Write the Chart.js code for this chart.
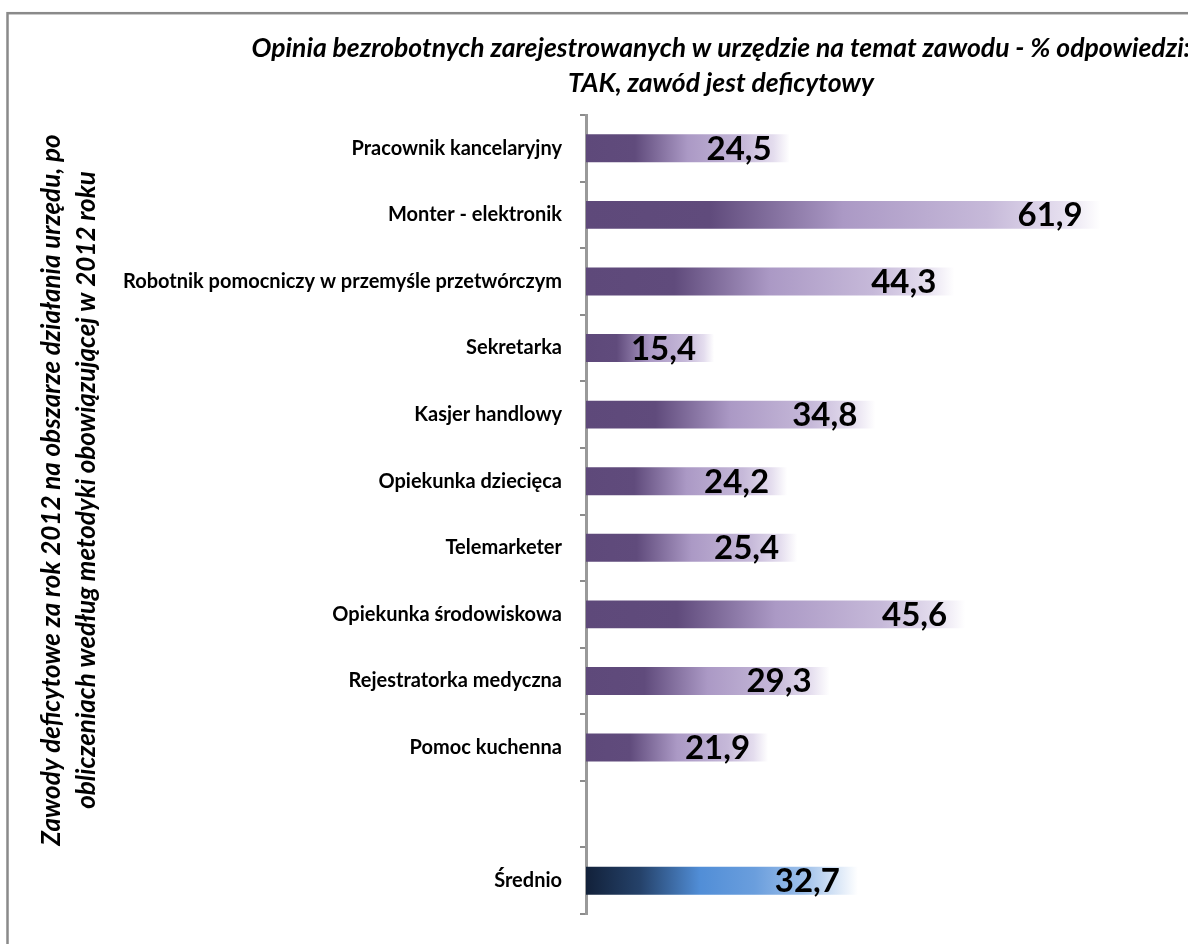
<!DOCTYPE html>
<html>
<head>
<meta charset="utf-8">
<script src="https://cdn.jsdelivr.net/npm/chart.js@4.4.0/dist/chart.umd.min.js"></script>
<style>
  html, body { margin: 0; padding: 0; background: #ffffff; }
  #wrap { width: 1188px; height: 944px; position: relative; }
</style>
</head>
<body>
<div id="wrap"><canvas id="c" width="1188" height="944"></canvas></div>
<script>
// Occupations (empty slot separates the average row)
const categories = [
  'Pracownik kancelaryjny',
  'Monter - elektronik',
  'Robotnik pomocniczy w przemyśle przetwórczym',
  'Sekretarka',
  'Kasjer handlowy',
  'Opiekunka dziecięca',
  'Telemarketer',
  'Opiekunka środowiskowa',
  'Rejestratorka medyczna',
  'Pomoc kuchenna',
  '',
  'Średnio'
];
// % of answers "TAK, zawód jest deficytowy"
const values = [24.5, 61.9, 44.3, 15.4, 34.8, 24.2, 25.4, 45.6, 29.3, 21.9, null, 32.7];
const averageLabel = 'Średnio';
const titleLines = [
  'Opinia bezrobotnych zarejestrowanych w urzędzie na temat zawodu - % odpowiedzi:',
  'TAK, zawód jest deficytowy'
];
const axisTitleLines = [
  'Zawody deficytowe za rok 2012 na obszarze działania urzędu, po',
  'obliczeniach według metodyki obowiązującej w 2012 roku'
];
const xMin = 0;
const xMax = 70;

const FONT = 'Lato, "Open Sans", sans-serif';

// gradient stops along each bar (0 = base, 1 = bar end)
const purpleStops = [
  [0, '#5e497a'], [0.24, '#604b7c'], [0.5, '#ab99c5'],
  [0.78, '#c6b9d9'], [0.92, '#e4ddee'], [1, '#ffffff']
];
const blueStops = [
  [0, '#12213a'], [0.2, '#25426a'], [0.42, '#518ed7'],
  [0.62, '#6a9edd'], [0.8, '#9dbfe9'], [0.93, '#dce8f7'], [1, '#ffffff']
];

function barGradient(ctx) {
  const chart = ctx.chart;
  if (!chart.chartArea) return '#604b7c';
  const v = ctx.raw;
  if (v == null) return 'rgba(0,0,0,0)';
  const xs = chart.scales.x;
  const x0 = xs.getPixelForValue(0);
  const x1 = xs.getPixelForValue(v);
  const g = chart.ctx.createLinearGradient(x0, 0, x1, 0);
  const stops = categories[ctx.dataIndex] === averageLabel ? blueStops : purpleStops;
  stops.forEach(([p, c]) => g.addColorStop(p, c));
  return g;
}

function fmt(v) {
  return v.toFixed(1).replace('.', ',');
}

// page frame + titles
const decorations = {
  id: 'decorations',
  beforeDraw(chart) {
    const c = chart.ctx;
    c.save();
    c.fillStyle = '#ffffff';
    c.fillRect(0, 0, chart.width, chart.height);
    c.strokeStyle = '#8a8a8a';
    c.lineWidth = 2.5;
    c.strokeRect(7.5, 13.2, chart.width + 40, chart.height + 40);
    c.restore();
  },
  afterDraw(chart) {
    const c = chart.ctx;
    c.save();
    c.fillStyle = '#000000';
    c.font = 'italic bold 26.5px ' + FONT;
    c.textAlign = 'center';
    c.textBaseline = 'alphabetic';
    c.fillText(titleLines[0], 721, 57);
    c.fillText(titleLines[1], 721, 92);

    c.font = 'italic bold 26px ' + FONT;
    axisTitleLines.forEach((line, i) => {
      c.save();
      c.translate(60 + i * 35, 490);
      c.rotate(-Math.PI / 2);
      c.fillText(line, 0, 0);
      c.restore();
    });
    c.restore();
  }
};

// value labels at the end of each bar
const valueLabels = {
  id: 'valueLabels',
  afterDatasetsDraw(chart) {
    const c = chart.ctx;
    const meta = chart.getDatasetMeta(0);
    c.save();
    c.fillStyle = '#000000';
    c.font = 'bold 33px ' + FONT;
    c.textAlign = 'right';
    c.textBaseline = 'alphabetic';
    meta.data.forEach((bar, i) => {
      const v = values[i];
      if (v == null) return;
      c.fillText(fmt(v), bar.x - 18, bar.y + 11.5);
    });
    c.restore();
  }
};

new Chart(document.getElementById('c'), {
  type: 'bar',
  data: {
    labels: categories,
    datasets: [{
      data: values,
      backgroundColor: barGradient,
      borderWidth: 0,
      barPercentage: 0.42,
      categoryPercentage: 1.0
    }]
  },
  options: {
    indexAxis: 'y',
    responsive: false,
    animation: false,
    devicePixelRatio: 1,
    layout: { padding: { top: 115, bottom: 22, right: 20, left: 0 } },
    plugins: {
      legend: { display: false },
      tooltip: { enabled: false },
      title: { display: false }
    },
    scales: {
      x: {
        display: false,
        min: xMin,
        max: xMax
      },
      y: {
        z: 1,
        afterFit(scale) { scale.width = 586; },
        grid: {
          display: true,
          offset: true,
          drawOnChartArea: false,
          drawTicks: true,
          tickLength: 6,
          color: '#8c8c8c',
          lineWidth: 2
        },
        border: { display: true, color: '#9a9a9a', width: 3 },
        ticks: {
          color: '#000000',
          padding: 18,
          font: { family: FONT, size: 20, weight: 'bold' }
        }
      }
    }
  },
  plugins: [decorations, valueLabels]
});
</script>
</body>
</html>
